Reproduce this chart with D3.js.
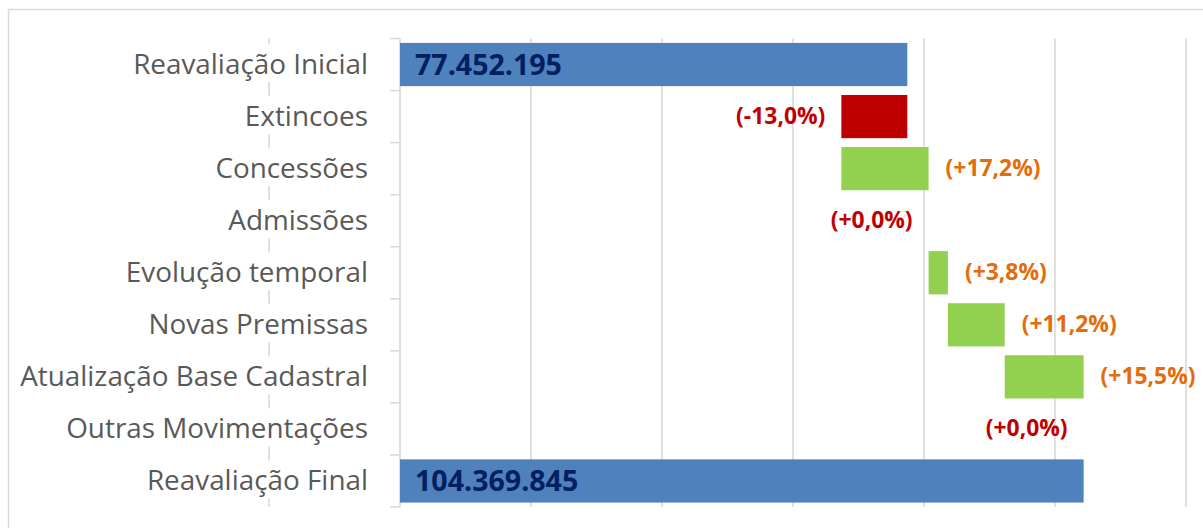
<!DOCTYPE html>
<html><head><meta charset="utf-8">
<script src="https://cdn.jsdelivr.net/npm/d3@7/dist/d3.min.js"></script>
<style>body{margin:0;background:#fff;} svg{display:block;}</style>
</head><body>
<svg id="c" width="1203" height="528"></svg>
<script>
const categories = ["Reavaliação Inicial","Extincoes","Concessões","Admissões","Evolução temporal","Novas Premissas","Atualização Base Cadastral","Outras Movimentações","Reavaliação Final"];
const kinds = ["total","delta","delta","delta","delta","delta","delta","delta","total"];
const values = [77452195, -10070000, 13320000, 0, 2945000, 8675000, 12047650, 0, 104369845];
const valueLabels = ["77.452.195","(-13,0%)","(+17,2%)","(+0,0%)","(+3,8%)","(+11,2%)","(+15,5%)","(+0,0%)","104.369.845"];
const xTicks = [-20e6, 0, 20e6, 40e6, 60e6, 80e6, 100e6, 120e6];

const svg = d3.select("#c");
const plot = {left: 269, right: 1186, top: 38.5, bottom: 507};
const FONT = "'Open Sans', Lato, sans-serif";

// frame
svg.append("rect").attr("x", 8.5).attr("y", 9.5).attr("width", 1300).attr("height", 600)
  .attr("fill", "none").attr("stroke", "#d9d9d9").attr("stroke-width", 1.5);

const x = d3.scaleLinear().domain([-20e6, 120e6]).range([plot.left, plot.right]);
const y = d3.scaleBand().domain(categories).range([plot.top, plot.bottom]).paddingInner(0.17).paddingOuter(0.085);

// font-size fitting helper: make a sample string reach a target width
function fitSize(str, weight, target) {
  const t = svg.append("text").attr("font-family", FONT).attr("font-weight", weight).attr("font-size", 100).text(str);
  const w = t.node().getComputedTextLength(); t.remove();
  return 100 * target / w;
}
const catSize = fitSize(categories[0], "normal", 235);
const pctSize = fitSize("(+17,2%)", "bold", 95);
const totSize = fitSize("77.452.195", "bold", 147);

let run = 0;
const data = categories.map((c, i) => {
  let x0, x1;
  if (kinds[i] === "total") { x0 = 0; x1 = values[i]; run = values[i]; }
  else { const s = run; run += values[i]; x0 = Math.min(s, run); x1 = Math.max(s, run); }
  return {c, i, kind: kinds[i], v: values[i], x0, x1, label: valueLabels[i]};
});

// gridlines
svg.append("g").selectAll("line").data(xTicks.filter(t => t !== 0)).join("line")
  .attr("x1", d => x(d)).attr("x2", d => x(d))
  .attr("y1", plot.top).attr("y2", plot.bottom)
  .attr("stroke", "#d9d9d9").attr("stroke-width", 1.6);

// category labels with white background
const labG = svg.append("g").selectAll("g").data(categories).join("g");
const labTexts = labG.append("text")
  .attr("x", 368).attr("y", d => y(d) + y.bandwidth()/2 - 1.5)
  .attr("text-anchor", "end").attr("dominant-baseline", "central")
  .attr("font-family", FONT).attr("font-size", catSize)
  .attr("fill", "#595959").text(d => d);
labTexts.each(function() {
  const b = this.getBBox();
  d3.select(this.parentNode).insert("rect", "text")
    .attr("x", b.x - 2).attr("y", b.y).attr("width", b.width + 4).attr("height", b.height)
    .attr("fill", "#fff");
});

// category axis at 0
const ax = svg.append("g").attr("transform", `translate(${x(0)},0)`);
ax.append("line").attr("y1", plot.top).attr("y2", plot.bottom)
  .attr("stroke", "#d9d9d9").attr("stroke-width", 1.6);
const tickYs = d3.range(categories.length + 1).map(k => plot.top + k * (plot.bottom - plot.top) / categories.length);
ax.selectAll("line.t").data(tickYs).join("line").attr("class", "t")
  .attr("x1", -10).attr("x2", 0).attr("y1", d => d).attr("y2", d => d)
  .attr("stroke", "#d9d9d9").attr("stroke-width", 1.6);

// bars
const color = d => d.kind === "total" ? "#4f81bd" : (d.v < 0 ? "#c00000" : "#92d050");
svg.append("g").selectAll("rect").data(data.filter(d => d.x1 !== d.x0)).join("rect")
  .attr("x", d => x(d.x0)).attr("width", d => x(d.x1) - x(d.x0))
  .attr("y", d => y(d.c)).attr("height", y.bandwidth())
  .attr("fill", color);

// value labels
svg.append("g").attr("font-family", FONT).attr("font-weight", "bold")
  .selectAll("text").data(data).join("text")
  .attr("x", d => d.kind === "total" ? x(0) + 15 : (d.v > 0 ? x(d.x1) + 17 : x(d.x0) - 16))
  .attr("y", d => y(d.c) + y.bandwidth()/2 - 1)
  .attr("dominant-baseline", "central")
  .attr("text-anchor", d => d.kind === "total" ? "start" : (d.v > 0 ? "start" : "end"))
  .attr("font-size", d => d.kind === "total" ? totSize : pctSize)
  .attr("fill", d => d.kind === "total" ? "#002060" : (d.v > 0 ? "#e46c0a" : "#c00000"))
  .text(d => d.label);
</script>
</body></html>
